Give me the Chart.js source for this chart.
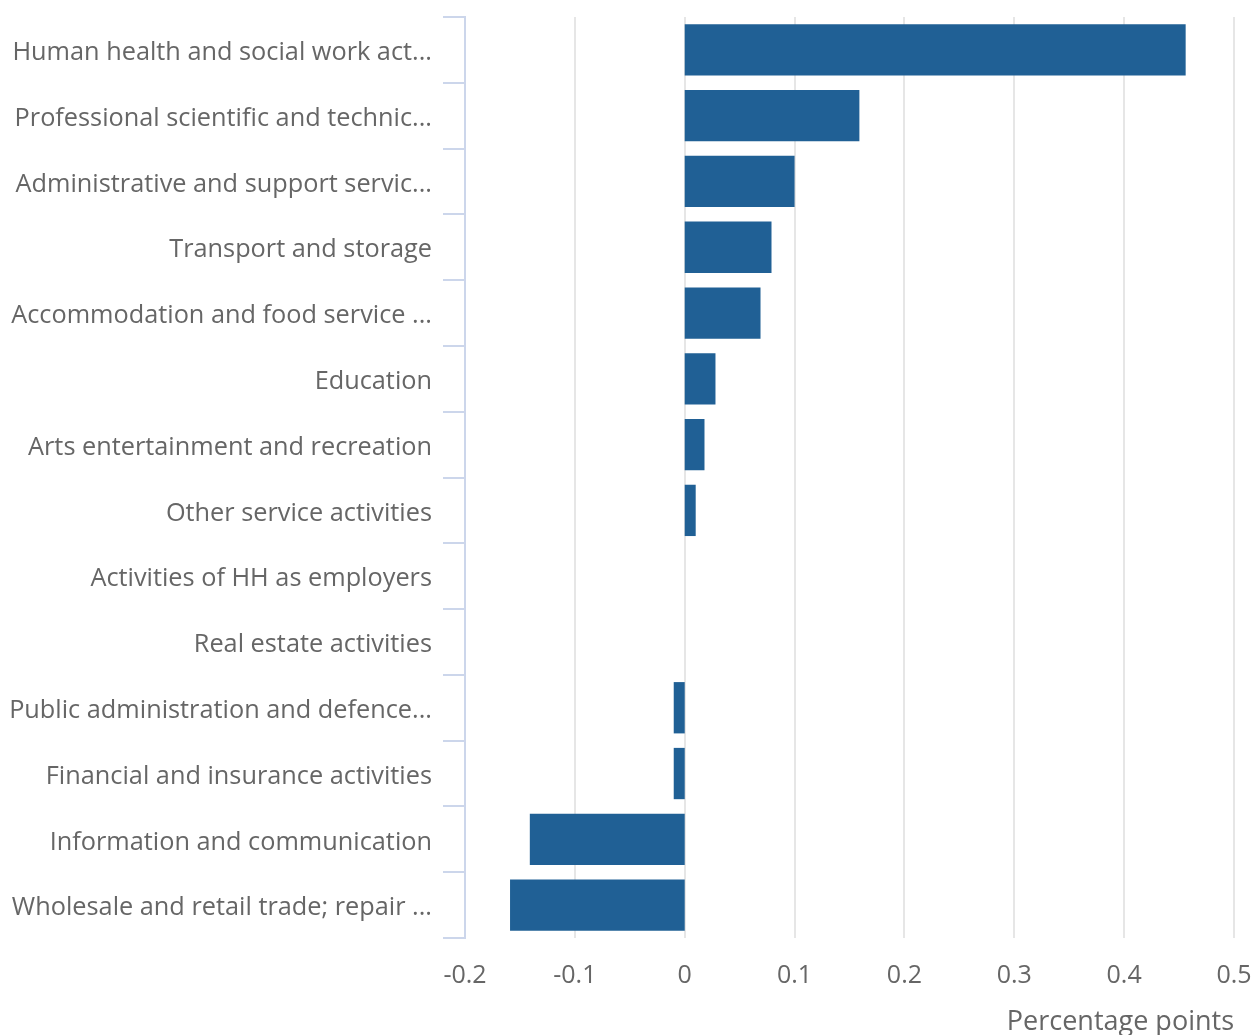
<!DOCTYPE html>
<html>
<head>
<meta charset="utf-8">
<title>Contribution by industry</title>
<script src="https://cdn.jsdelivr.net/npm/chart.js@4/dist/chart.umd.min.js"></script>
<style>
    html, body { margin: 0; padding: 0; background: #ffffff; }
    #wrap { width: 1252px; height: 1035px; position: relative; }
</style>
</head>
<body>
<div id="wrap"><canvas id="industryChart"></canvas></div>
<script>
// Industry labels as shown on the axis (long ones are cut off)
const industries = [
    'Human health and social work act...',
    'Professional scientific and technic...',
    'Administrative and support servic...',
    'Transport and storage',
    'Accommodation and food service ...',
    'Education',
    'Arts entertainment and recreation',
    'Other service activities',
    'Activities of HH as employers',
    'Real estate activities',
    'Public administration and defence...',
    'Financial and insurance activities',
    'Information and communication',
    'Wholesale and retail trade; repair ...'
];

// Contribution, percentage points
const contribution = [0.456, 0.159, 0.10, 0.079, 0.069, 0.028, 0.018, 0.01, 0, 0, -0.01, -0.01, -0.141, -0.159];

const xMin = -0.2;
const xMax = 0.5;
const xStep = 0.1;
const xTitle = 'Percentage points';

const textColour = '#666666';
const barColour = '#206095';
const labelFont = { family: '"Open Sans", sans-serif', size: 25.3 };
const font = { family: '"Open Sans", sans-serif', size: 25 };
const titleFont = { family: '"Open Sans", sans-serif', size: 27 };

const ctx = document.getElementById('industryChart').getContext('2d');

new Chart(ctx, {
    type: 'bar',
    data: {
        labels: industries,
        datasets: [{
            data: contribution,
            backgroundColor: barColour,
            borderWidth: 0,
            barPercentage: 0.78,
            categoryPercentage: 1
        }]
    },
    options: {
        indexAxis: 'y',
        responsive: true,
        maintainAspectRatio: false,
        animation: false,
        layout: { padding: { top: 17, right: 18, bottom: 0, left: 0 } },
        scales: {
            y: {
                grid: {
                    offset: true,
                    drawOnChartArea: false,
                    drawTicks: true,
                    tickLength: 22,
                    color: '#ccd6eb',
                    lineWidth: 2
                },
                border: { display: true, color: '#ccd6eb', width: 2 },
                ticks: { color: textColour, font: labelFont, padding: 11, labelOffset: 3, autoSkip: false },
                afterFit: (scale) => {
                    scale.width = 465;
                    scale.paddingTop = 0;
                    scale.paddingBottom = 0;
                }
            },
            x: {
                min: xMin,
                max: xMax,
                grid: { color: '#e6e6e6', lineWidth: 2, drawTicks: false },
                border: { display: false },
                ticks: {
                    stepSize: xStep,
                    color: textColour,
                    font: font,
                    padding: 23,
                    callback: (v) => String(Number(v.toFixed(1)))
                },
                title: {
                    display: true,
                    text: xTitle,
                    align: 'end',
                    color: textColour,
                    font: titleFont,
                    padding: { top: 0, bottom: -4 }
                },
                afterFit: (scale) => {
                    scale.height = 97;
                    scale.paddingLeft = 0;
                    scale.paddingRight = 0;
                }
            }
        },
        plugins: {
            legend: { display: false },
            tooltip: { enabled: false }
        }
    }
});
</script>
</body>
</html>
